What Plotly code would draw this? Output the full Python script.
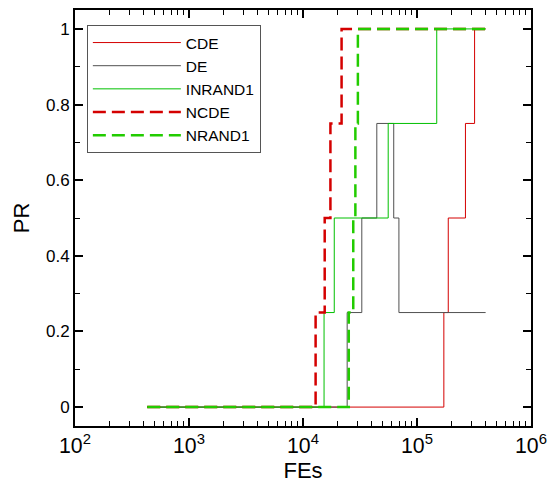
import plotly.graph_objects as go

# Step data (FEs, PR)
cde_x = [430, 1.72e5, 1.88e5, 2.66e5, 3.2e5, 4.0e5]
cde_y = [0, 0.25, 0.5, 0.75, 1.0, 1.0]

de_x = [430, 2.44e4, 3.28e4, 4.44e4, 6.25e4, 6.94e4, 4.0e5]
de_y = [0, 0.25, 0.5, 0.75, 0.5, 0.25, 0.25]

inrand1_x = [430, 1.53e4, 1.88e4, 5.59e4, 1.49e5, 4.0e5]
inrand1_y = [0, 0.25, 0.5, 0.75, 1.0, 1.0]

ncde_x = [430, 1.29e4, 1.55e4, 1.74e4, 2.18e4, 4.0e5]
ncde_y = [0, 0.25, 0.5, 0.75, 1.0, 1.0]

nrand1_x = [430, 2.52e4, 2.76e4, 2.88e4, 3.03e4, 4.0e5]
nrand1_y = [0, 0.25, 0.5, 0.75, 1.0, 1.0]

series = [
    ("CDE", cde_x, cde_y, "#d40000", 1, "solid"),
    ("DE", de_x, de_y, "#505050", 1, "solid"),
    ("INRAND1", inrand1_x, inrand1_y, "#00c000", 1, "solid"),
    ("NCDE", ncde_x, ncde_y, "#d40000", 2.5, "13px,6px"),
    ("NRAND1", nrand1_x, nrand1_y, "#22cc00", 2.5, "13px,6px"),
]

fig = go.Figure()
for name, xs, ys, color, w, dash in series:
    fig.add_trace(go.Scatter(
        x=xs, y=ys, name=name, mode="lines",
        line=dict(color=color, width=w, dash=dash, shape="hv"),
    ))

font_family = "Liberation Sans, Arial, sans-serif"
fig.update_layout(
    width=555, height=483,
    margin=dict(l=75, r=16, t=8, b=54),
    paper_bgcolor="white", plot_bgcolor="white",
    font=dict(family=font_family, size=16, color="black"),
    showlegend=True,
    legend=dict(
        x=0.026, y=0.964, xanchor="left", yanchor="top",
        bordercolor="#555555", borderwidth=1, bgcolor="white",
        font=dict(size=15.5), itemwidth=88, tracegroupgap=0,
    ),
)
fig.update_xaxes(
    type="log", range=[2, 6], dtick=1, exponentformat="power",
    showgrid=False, zeroline=False,
    showline=True, linecolor="black", linewidth=2, mirror="allticks",
    ticks="inside", ticklen=8, tickwidth=2, tickcolor="black",
    minor=dict(ticks="inside", ticklen=5, tickwidth=1, tickcolor="black", showgrid=False),
    title=dict(text="FEs", font=dict(size=22), standoff=2),
    tickfont=dict(size=17),
)
fig.update_yaxes(
    range=[-0.05, 1.05], tickvals=[0, 0.2, 0.4, 0.6, 0.8, 1],
    ticktext=["0", "0.2", "0.4", "0.6", "0.8", "1"],
    showgrid=False, zeroline=False,
    showline=True, linecolor="black", linewidth=2, mirror="allticks",
    ticks="inside", ticklen=8, tickwidth=2, tickcolor="black",
    minor=dict(tickvals=[0.1, 0.3, 0.5, 0.7, 0.9], ticks="inside", ticklen=5,
               tickwidth=1, tickcolor="black", showgrid=False),
    title=dict(text="PR", font=dict(size=22), standoff=10),
    tickfont=dict(size=17),
)

fig.write_html("out.html")
